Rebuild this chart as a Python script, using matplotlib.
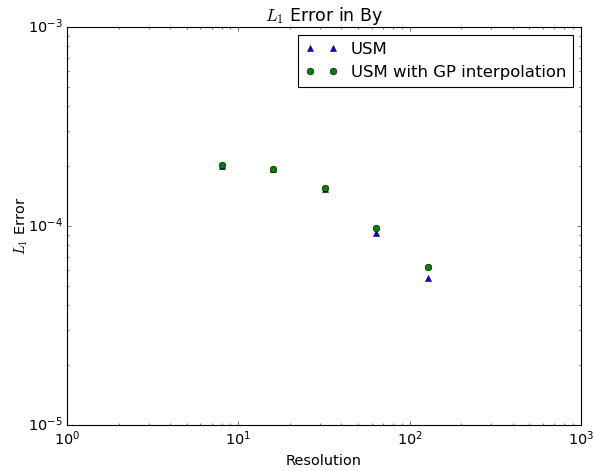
import numpy as np
import matplotlib
matplotlib.use('Agg')
import matplotlib.pyplot as plt

plt.style.use('classic')
plt.rcParams['font.size'] = 13

resolution = [8, 16, 32, 64, 128]
err_usm = [2.00e-4, 1.93e-4, 1.54e-4, 9.2e-5, 5.45e-5]
err_gp = [2.03e-4, 1.93e-4, 1.56e-4, 9.8e-5, 6.22e-5]

fig = plt.figure(figsize=(594 / 80, 471 / 80), dpi=80)
ax = fig.add_axes([67 / 594, 1 - 425 / 471, (581 - 67) / 594, (425 - 27) / 471])

ax.loglog(resolution, err_usm, 'b^', label='USM')
ax.loglog(resolution, err_gp, 'go', label='USM with GP interpolation')

ax.set_xlim(1, 1000)
ax.set_ylim(1e-5, 1e-3)
ax.set_title('$L_1$ Error in By')
ax.set_xlabel('Resolution')
ax.set_ylabel('$L_1$ Error', labelpad=-2)
ax.legend(loc='upper right', numpoints=2, fontsize=14.8)

fig.savefig('out.png', dpi=80)
